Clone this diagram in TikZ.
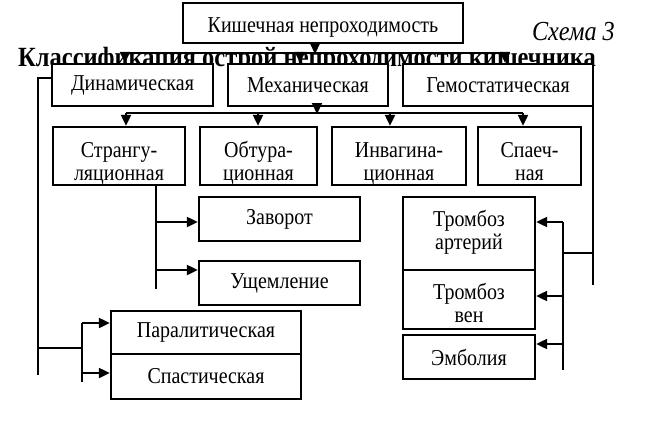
\documentclass[tikz,border=0pt]{standalone}
\usepackage{fontspec}
\setmainfont{Liberation Serif}
\newfontfamily\boxfont{Liberation Serif}[FakeStretch=0.88]
\usetikzlibrary{arrows.meta}
\begin{document}
\begin{tikzpicture}[x=1pt,y=-1pt,
  box/.style={draw,line width=2.4pt,fill=white,inner sep=0pt,align=center,
    font=\boxfont\fontsize{22.7}{23}\selectfont},
  boxtext/.style={inner sep=0pt,align=center,
    font=\boxfont\fontsize{22.7}{23}\selectfont},
  conn/.style={line width=2.2pt},
  arr/.style={line width=2.2pt,-{Triangle[length=11pt,width=10pt]}}]
\useasboundingbox (0,0) rectangle (650,439);
% title and caption
\node[anchor=base west,inner sep=0pt,font=\boxfont\fontsize{27.8}{30}\selectfont\bfseries] (title) at (18,66) {Классификация острой непроходимости кишечника};
\node[anchor=base east,inner sep=0pt,font=\boxfont\fontsize{27.5}{30}\selectfont\itshape] (schema) at (615,40) {Схема 3};
% coordinates for connector lines
\coordinate (h1l) at (125,53);
\coordinate (h1r) at (505,53);
\coordinate (h1m) at (300,53);
\coordinate (h1t) at (315,54);
\coordinate (h2l) at (126,113);
\coordinate (h2r) at (523,113);
\coordinate (h2b) at (258,113);
\coordinate (h2c) at (390,113);
\coordinate (h2t) at (317,114);
\coordinate (sv1) at (156,222);
\coordinate (sv2) at (156,270);
\coordinate (sve) at (156,289);
\coordinate (lt) at (38,78);
\coordinate (lb) at (38,375);
\coordinate (lm) at (38,348);
\coordinate (lm2) at (82,348);
\coordinate (la) at (82,323);
\coordinate (lc) at (82,373);
\coordinate (lce) at (82,382);
\coordinate (rb) at (593,285);
\coordinate (rm) at (593,253);
\coordinate (rm2) at (563,253);
\coordinate (ra) at (563,222);
\coordinate (rv) at (563,296);
\coordinate (re) at (563,344);
\coordinate (ree) at (563,370);
% connectors (drawn first, boxes cover ends)
\draw[conn] (h1l) -- (h1r);
\draw[conn] (h2l) -- (h2r);
\draw[conn] (156,185) -- (sve);
\draw[conn] (52,78) -- (lt) -- (lb);
\draw[conn] (lm) -- (lm2);
\draw[conn] (la) -- (lce);
\draw[conn] (593,107) -- (rb);
\draw[conn] (rm) -- (rm2);
\draw[conn] (ra) -- (ree);
% boxes
\node[box,minimum width=280pt,minimum height=40pt,text height=18pt,text depth=0pt] (top) at (323,23) {Кишечная непроходимость};
\node[box,minimum width=161pt,minimum height=42pt] (din) at (132.5,85) {Динамическая};
\node[box,minimum width=160pt,minimum height=42pt] (meh) at (308,85) {Механическая};
\node[box,minimum width=190pt,minimum height=42pt] (gem) at (498,85) {Гемостатическая};
\node[box,minimum width=132pt,minimum height=58pt] (str) at (119,156) {};
\node[box,minimum width=117pt,minimum height=58pt] (obt) at (258.5,156) {};
\node[box,minimum width=134pt,minimum height=58pt] (inv) at (399,156) {};
\node[box,minimum width=103pt,minimum height=58pt] (spa) at (529.5,156) {};
\node[boxtext] (strt) at ([yshift=-8pt]str.center) {\strut Странгу-\\\strut ляционная};
\node[boxtext] (obtt) at ([yshift=-8pt]obt.center) {\strut Обтура-\\\strut ционная};
\node[boxtext] (invt) at ([yshift=-8pt]inv.center) {\strut Инвагина-\\\strut ционная};
\node[boxtext] (spat) at ([yshift=-8pt]spa.center) {\strut Спаеч-\\\strut ная};
\node[box,minimum width=161pt,minimum height=44pt] (zav) at (279.5,219) {Заворот};
\node[box,minimum width=161pt,minimum height=44pt] (ush) at (279.5,283) {Ущемление};
\node[box,minimum width=190pt,minimum height=43pt] (par) at (206,332.5) {Паралитическая};
\node[box,minimum width=190pt,minimum height=45pt] (spt) at (206,376.5) {Спастическая};
\node[box,minimum width=132pt,minimum height=73pt] (ta) at (469,233.5) {};
\node[box,minimum width=132pt,minimum height=59pt] (tv) at (469,299.5) {};
\node[boxtext] (tat) at (ta.center) {\strut Тромбоз\\\strut артерий};
\node[boxtext] (tvt) at ([yshift=-7pt]tv.center) {\strut Тромбоз\\\strut вен};
\node[box,minimum width=132pt,minimum height=44pt] (emb) at (469,357) {Эмболия};
% arrows
\draw[arr] (top.south -| h1t) -- (h1t);
\draw[arr] (h1l) -- (h1l |- din.north);
\draw[arr] (h1m) -- (h1m |- meh.north);
\draw[arr] (h1r) -- (h1r |- gem.north);
\draw[arr] (meh.south -| h2t) -- (h2t);
\draw[arr] (h2l) -- (h2l |- str.north);
\draw[arr] (h2b) -- (h2b |- obt.north);
\draw[arr] (h2c) -- (h2c |- inv.north);
\draw[arr] (h2r) -- (h2r |- spa.north);
\draw[arr] (sv1) -- (sv1 -| zav.west);
\draw[arr] (sv2) -- (sv2 -| ush.west);
\draw[arr] (la) -- (la -| par.west);
\draw[arr] (lc) -- (lc -| spt.west);
\draw[arr] (ra) -- (ra -| ta.east);
\draw[arr] (rv) -- (rv -| tv.east);
\draw[arr] (re) -- (re -| emb.east);
\end{tikzpicture}
\end{document}
